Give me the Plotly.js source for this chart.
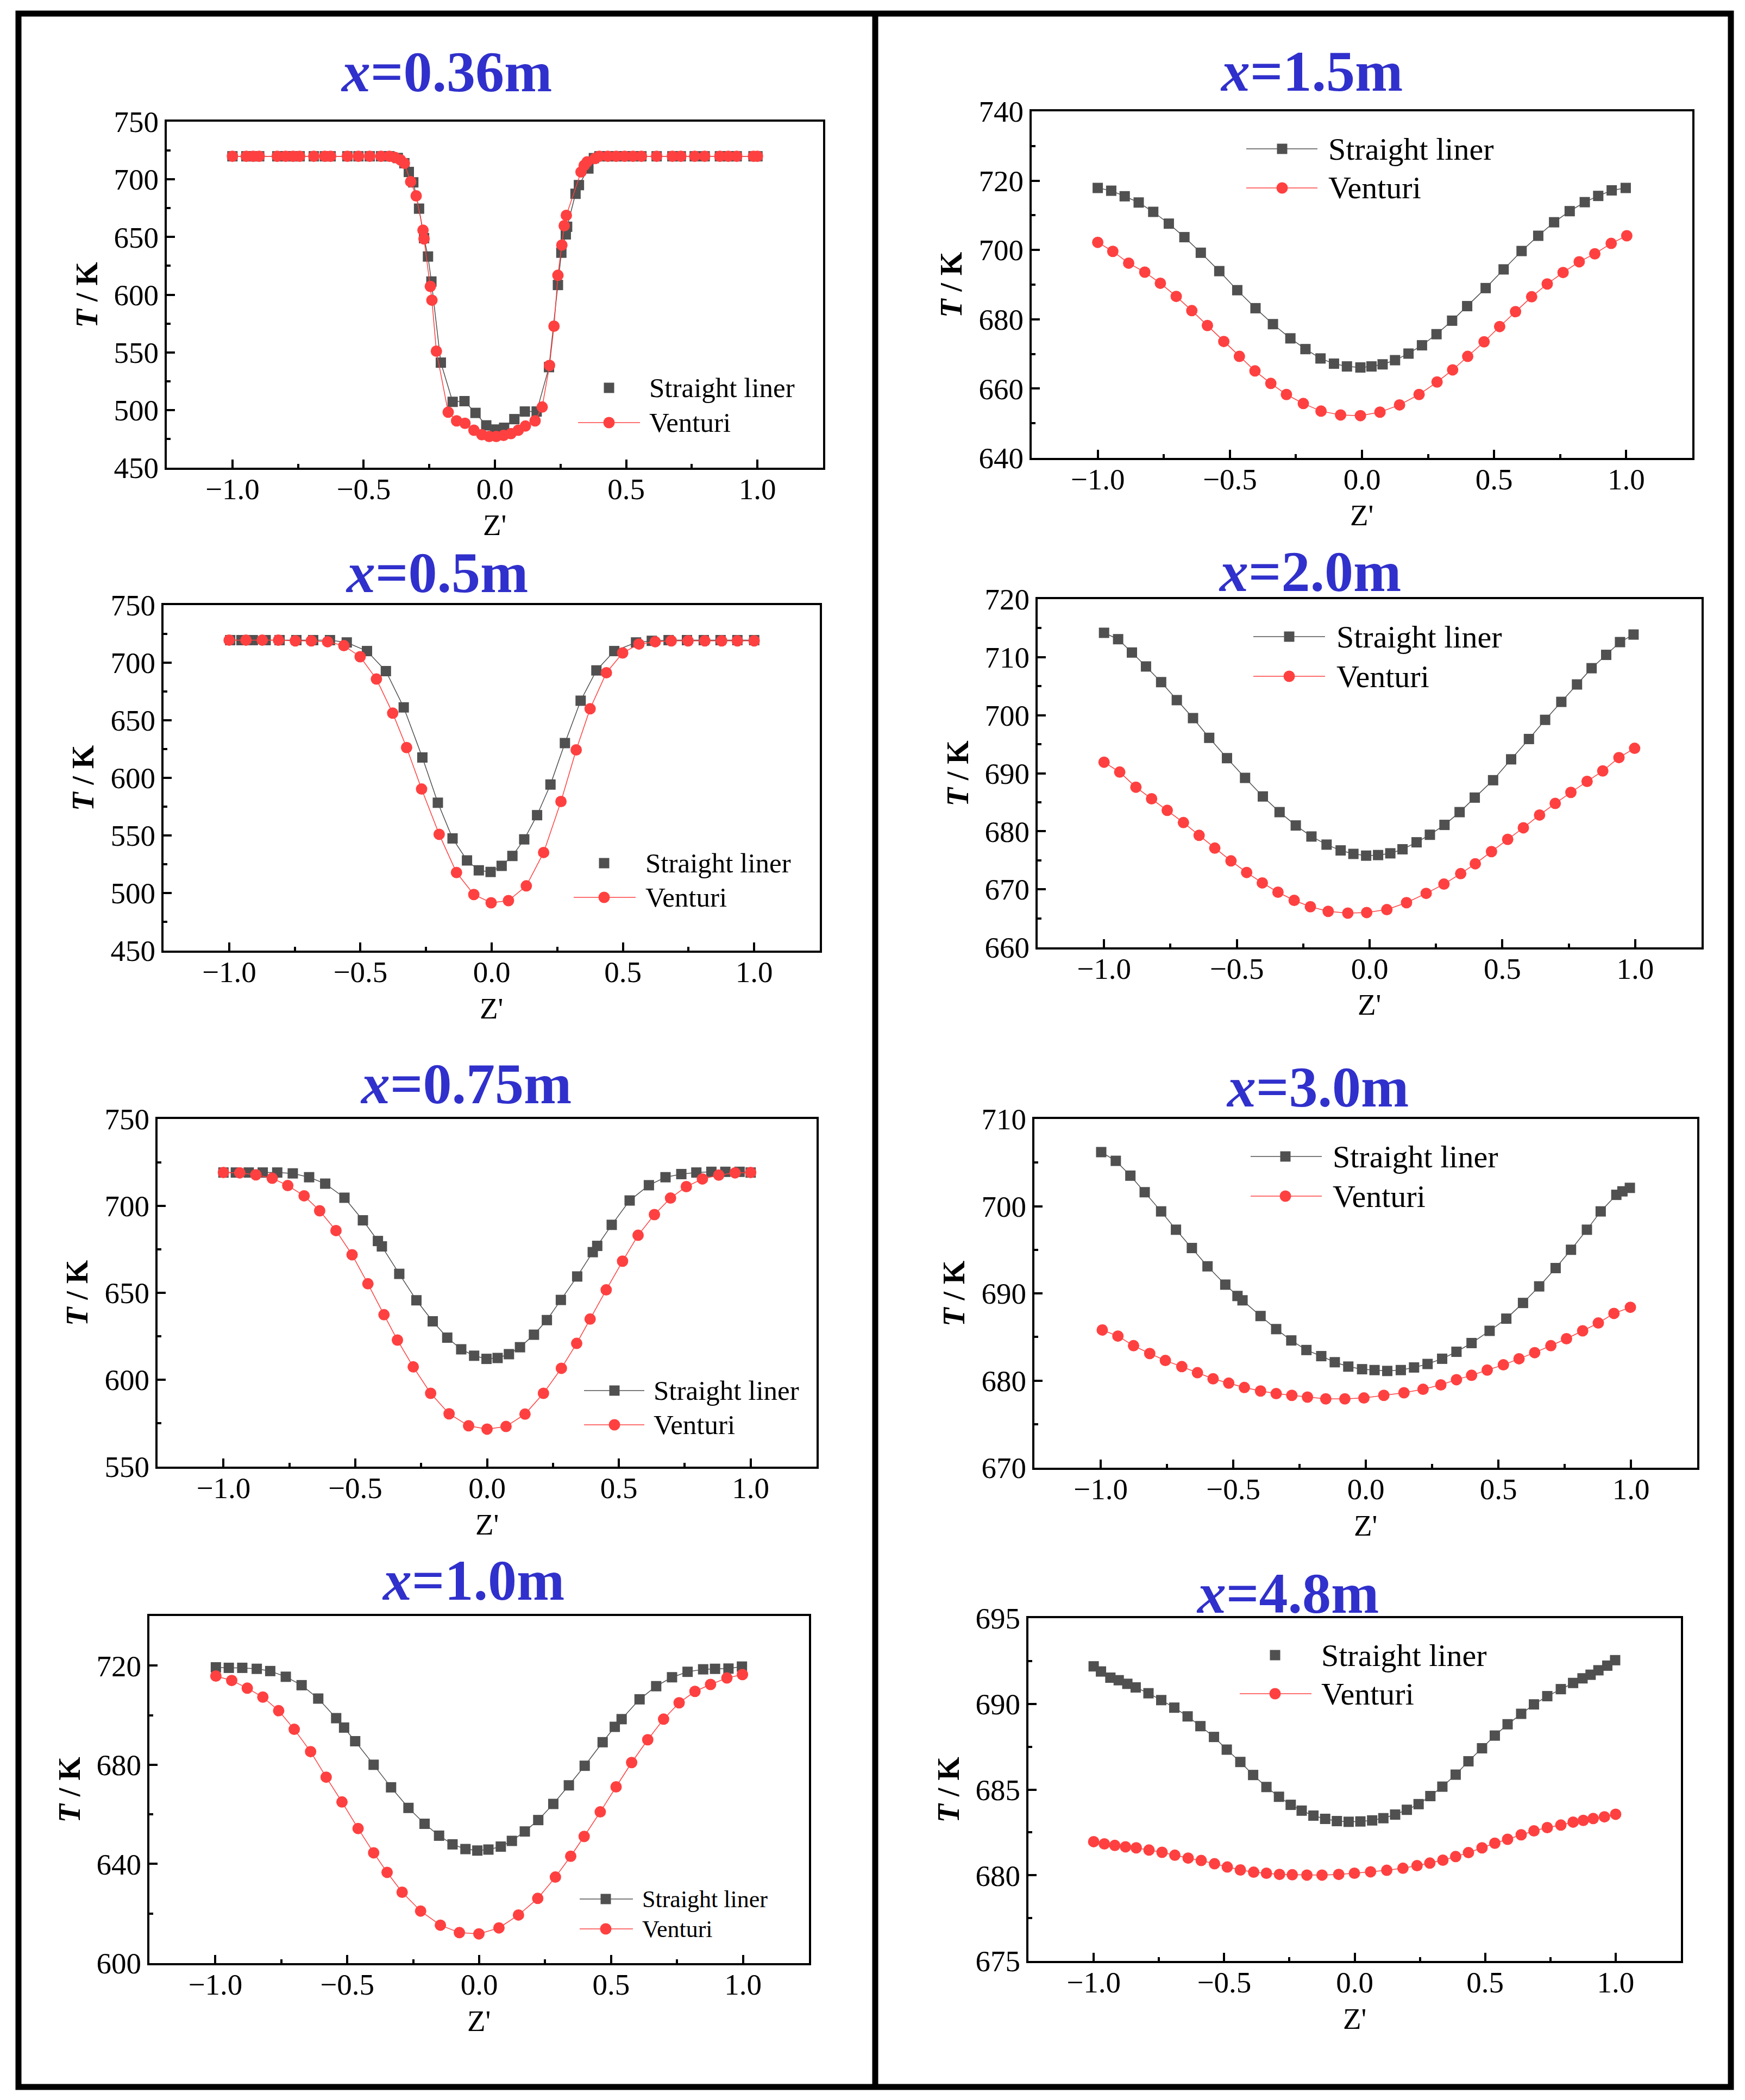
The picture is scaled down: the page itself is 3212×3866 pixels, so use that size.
<!DOCTYPE html>
<html>
<head>
<meta charset="utf-8">
<script src="https://cdn.plot.ly/plotly-3.0.1.min.js"></script>
<style>html,body{margin:0;padding:0;background:#fff;}#chart{width:3212px;height:3866px;}</style>
</head>
<body>
<div id="chart"></div>
<script>
// ---------------- DATA ----------------
const panelTitles = ["0.36m","0.5m","0.75m","1.0m","1.5m","2.0m","3.0m","4.8m"];
const seriesNames = ["Straight liner","Venturi"];

// x = 0.36 m
const z036_sl = [-1.0,-0.947,-0.921,-0.898,-0.829,-0.797,-0.769,-0.744,-0.690,-0.648,-0.626,-0.562,-0.520,-0.477,-0.434,-0.402,-0.370,-0.345,-0.328,-0.311,-0.289,-0.270,-0.255,-0.242,-0.206,-0.161,-0.116,-0.074,-0.033,0.001,0.035,0.074,0.114,0.159,0.206,0.240,0.253,0.270,0.275,0.307,0.320,0.356,0.377,0.398,0.430,0.462,0.494,0.526,0.558,0.616,0.676,0.708,0.761,0.799,0.857,0.889,0.921,0.985,1.0];
const t036_sl = [720,720,720,720,720,720,720,720,720,720,720,720,720,720,720,720,718.5,714,706.4,697.4,674.6,649.0,633.1,611.4,541.1,507.1,507.7,497.5,486.7,483.1,484.6,492.1,498.7,498.7,537.2,608.4,636.4,652.3,658.9,687.5,695.0,709.4,718.4,720,720,720,720,720,720,720,720,720,720,720,720,720,720,720,720];
const z036_v = [-1.0,-0.947,-0.921,-0.898,-0.829,-0.797,-0.769,-0.744,-0.690,-0.648,-0.626,-0.562,-0.520,-0.477,-0.434,-0.402,-0.381,-0.360,-0.345,-0.321,-0.300,-0.274,-0.270,-0.246,-0.240,-0.223,-0.178,-0.146,-0.114,-0.080,-0.050,-0.022,0.005,0.033,0.061,0.089,0.116,0.153,0.180,0.208,0.225,0.240,0.255,0.264,0.272,0.328,0.340,0.351,0.381,0.398,0.430,0.462,0.494,0.526,0.558,0.616,0.676,0.708,0.761,0.799,0.857,0.889,0.921,0.985,1.0];
const t036_v = [720,720,720,720,720,720,720,720,720,720,720,720,720,720,720,720,719.0,716.9,713.9,698.0,685.7,655.9,648.4,607.2,595.2,551.0,498.1,490.6,488.5,482.5,478.6,477.1,477.1,478.0,479.5,482.5,486.1,490.6,502.6,538.7,572.7,616.8,643.0,659.8,668.8,706.4,712.1,715.1,718.1,720,720,720,720,720,720,720,720,720,720,720,720,720,720,720,720];

// x = 0.5 m
const z050_sl = [-0.996,-0.953,-0.910,-0.861,-0.808,-0.744,-0.680,-0.616,-0.552,-0.475,-0.403,-0.335,-0.264,-0.205,-0.149,-0.094,-0.049,-0.004,0.038,0.079,0.124,0.173,0.224,0.279,0.339,0.399,0.467,0.550,0.610,0.674,0.744,0.808,0.872,0.936,1.0];
const t050_sl = [719.6,719.6,719.6,719.6,719.6,719.6,719.6,719.6,717.6,710.1,692.7,661.2,617.7,578.4,547.4,528.3,519.7,518.3,523.6,532.2,546.6,567.6,594.2,630.2,667.0,693.3,710.1,717.6,719.0,719.6,719.6,719.6,719.6,719.6,719.6];
const z050_v = [-1.0,-0.936,-0.874,-0.812,-0.748,-0.687,-0.625,-0.563,-0.501,-0.439,-0.377,-0.324,-0.267,-0.200,-0.134,-0.068,-0.002,0.064,0.132,0.198,0.264,0.322,0.375,0.437,0.499,0.561,0.623,0.684,0.748,0.812,0.876,0.936,1.0];
const t050_v = [719.6,719.6,719.6,719.6,719.0,719.0,718.2,714.8,705.2,685.8,656.2,626.3,590.3,551.0,517.8,498.7,491.5,493.4,506.2,535.2,579.5,624.3,660.0,691.3,708.5,716.2,718.2,719.0,719.0,719.0,719.0,719.0,719.0];

// x = 0.75 m
const z075_sl = [-1.0,-0.953,-0.904,-0.851,-0.796,-0.737,-0.675,-0.614,-0.541,-0.471,-0.414,-0.399,-0.333,-0.268,-0.206,-0.151,-0.098,-0.049,-0.002,0.040,0.083,0.125,0.178,0.227,0.280,0.342,0.401,0.418,0.473,0.541,0.614,0.677,0.737,0.794,0.851,0.904,0.958,1.0];
const t075_sl = [719.2,719.2,719.2,719.2,719.2,718.7,716.5,712.8,704.7,691.7,679.8,676.7,660.9,645.7,633.6,624.2,617.5,613.8,612.0,612.5,614.7,618.7,625.9,634.3,645.9,659.4,673.4,677.0,689.1,703.1,711.9,716.5,718.3,719.2,719.6,719.6,719.6,719.2];
const z075_v = [-1.0,-0.938,-0.877,-0.815,-0.756,-0.694,-0.635,-0.573,-0.512,-0.452,-0.391,-0.340,-0.280,-0.214,-0.144,-0.070,0.0,0.072,0.144,0.214,0.282,0.340,0.391,0.452,0.514,0.573,0.635,0.696,0.756,0.817,0.879,0.941,1.0];
const t075_v = [719.2,719.0,717.9,715.9,711.7,705.8,697.2,685.8,671.9,655.2,637.4,622.8,607.4,592.2,580.4,573.5,571.6,573.1,580.2,592.2,606.6,620.9,634.9,651.7,668.2,683.1,695.0,704.5,711.1,715.5,717.7,719.0,719.2];

// x = 1.0 m
const z100_sl = [-0.998,-0.949,-0.898,-0.843,-0.792,-0.733,-0.673,-0.610,-0.542,-0.512,-0.470,-0.400,-0.334,-0.268,-0.207,-0.152,-0.101,-0.052,-0.007,0.035,0.082,0.124,0.173,0.224,0.281,0.340,0.400,0.468,0.514,0.540,0.608,0.671,0.731,0.790,0.849,0.894,0.945,0.996];
const t100_sl = [719.3,719.1,719.1,718.7,717.8,715.5,712.1,706.7,698.8,695.0,689.5,680.0,670.9,662.6,656.2,651.4,647.9,646.0,645.4,645.8,647.0,649.3,653.1,657.7,664.2,671.7,679.6,689.1,695.3,698.4,706.4,711.7,715.3,717.5,718.5,718.7,718.8,719.6];
const z100_v = [-0.998,-0.938,-0.879,-0.820,-0.760,-0.701,-0.639,-0.580,-0.520,-0.459,-0.400,-0.349,-0.292,-0.222,-0.147,-0.075,-0.001,0.075,0.149,0.222,0.289,0.347,0.398,0.459,0.519,0.578,0.639,0.699,0.758,0.818,0.877,0.939,0.998];
const t100_v = [715.8,714.0,710.9,707.3,701.8,694.3,685.3,675.0,665.0,654.3,644.5,636.6,628.6,621.0,615.3,612.3,611.8,614.2,619.4,626.1,634.7,643.1,651.1,661.0,671.1,680.9,690.1,698.4,705.0,709.6,712.4,715.0,716.4];

// x = 1.5 m
const z150_sl = [-1.0,-0.949,-0.898,-0.845,-0.790,-0.731,-0.672,-0.610,-0.540,-0.472,-0.403,-0.337,-0.271,-0.214,-0.157,-0.106,-0.057,-0.006,0.036,0.078,0.125,0.176,0.227,0.282,0.341,0.398,0.468,0.536,0.604,0.667,0.727,0.786,0.843,0.894,0.945,0.998];
const t150_sl = [717.9,717.1,715.5,713.7,711.0,707.6,703.7,699.2,693.9,688.4,683.2,678.6,674.5,671.4,668.7,667.2,666.4,666.1,666.4,667.0,668.2,670.1,672.5,675.7,679.6,683.8,689.0,694.4,699.7,704.1,708.0,711.2,713.8,715.6,717.2,717.9];
const z150_v = [-1.0,-0.943,-0.883,-0.822,-0.763,-0.703,-0.644,-0.585,-0.523,-0.464,-0.405,-0.345,-0.286,-0.222,-0.155,-0.081,-0.006,0.068,0.142,0.216,0.284,0.343,0.400,0.462,0.521,0.581,0.642,0.701,0.761,0.822,0.881,0.943,1.002];
const t150_v = [702.2,699.6,696.2,693.6,690.4,686.6,682.5,678.2,673.6,669.3,665.1,661.5,658.3,655.7,653.5,652.4,652.2,653.2,655.3,658.3,661.9,665.4,669.3,673.5,677.9,682.2,686.5,690.2,693.5,696.6,698.9,701.9,704.1];

// x = 2.0 m
const z200_sl = [-1.0,-0.947,-0.895,-0.842,-0.785,-0.726,-0.665,-0.604,-0.537,-0.469,-0.402,-0.339,-0.278,-0.219,-0.162,-0.109,-0.061,-0.013,0.032,0.078,0.124,0.177,0.227,0.282,0.339,0.396,0.465,0.533,0.600,0.661,0.722,0.781,0.836,0.891,0.943,0.994];
const t200_sl = [714.2,713.1,710.8,708.4,705.7,702.6,699.5,696.1,692.6,689.2,686.0,683.3,681.0,679.1,677.7,676.7,676.1,675.8,675.9,676.2,676.9,678.1,679.4,681.1,683.3,685.8,688.8,692.4,695.9,699.2,702.3,705.3,708.1,710.4,712.6,713.9];
const z200_v = [-1.0,-0.941,-0.880,-0.821,-0.762,-0.701,-0.642,-0.583,-0.522,-0.463,-0.404,-0.345,-0.284,-0.223,-0.156,-0.082,-0.011,0.065,0.139,0.213,0.280,0.343,0.398,0.459,0.520,0.579,0.640,0.699,0.758,0.819,0.878,0.939,0.998];
const t200_v = [691.9,690.2,687.6,685.6,683.6,681.5,679.3,677.1,674.9,672.9,671.1,669.5,668.1,667.0,666.2,665.9,666.0,666.5,667.7,669.3,670.9,672.7,674.4,676.5,678.6,680.6,682.8,684.8,686.7,688.6,690.4,692.7,694.3];

// x = 3.0 m
const z300_sl = [-0.998,-0.943,-0.888,-0.834,-0.772,-0.716,-0.656,-0.597,-0.530,-0.484,-0.465,-0.397,-0.338,-0.281,-0.224,-0.168,-0.117,-0.066,-0.014,0.033,0.081,0.132,0.182,0.233,0.288,0.342,0.399,0.467,0.530,0.593,0.654,0.716,0.774,0.834,0.886,0.945,0.968,0.996];
const t300_sl = [706.2,705.2,703.5,701.6,699.4,697.3,695.2,693.1,691.0,689.7,689.2,687.4,685.9,684.6,683.5,682.8,682.1,681.6,681.3,681.2,681.1,681.2,681.5,681.9,682.5,683.3,684.3,685.7,687.1,688.9,690.8,692.9,695.0,697.3,699.4,701.3,701.7,702.1];
const z300_v = [-0.994,-0.935,-0.876,-0.815,-0.756,-0.694,-0.635,-0.576,-0.517,-0.458,-0.397,-0.338,-0.279,-0.220,-0.151,-0.079,-0.007,0.068,0.144,0.216,0.283,0.342,0.399,0.458,0.519,0.578,0.637,0.698,0.757,0.818,0.877,0.936,0.998];
const t300_v = [685.8,685.1,684.0,683.1,682.3,681.6,680.9,680.2,679.7,679.2,678.8,678.5,678.3,678.1,677.9,677.9,678.0,678.3,678.6,679.0,679.5,680.1,680.6,681.2,681.8,682.5,683.2,684.0,684.8,685.7,686.6,687.7,688.4];

// x = 4.8 m
const z480_sl = [-1.0,-0.972,-0.936,-0.904,-0.871,-0.839,-0.790,-0.741,-0.691,-0.640,-0.591,-0.539,-0.490,-0.438,-0.389,-0.338,-0.290,-0.245,-0.203,-0.158,-0.113,-0.068,-0.023,0.022,0.067,0.110,0.155,0.200,0.245,0.290,0.336,0.387,0.436,0.488,0.537,0.586,0.638,0.687,0.738,0.790,0.837,0.873,0.904,0.934,0.968,0.998];
const t480_sl = [692.19,691.89,691.53,691.38,691.17,690.96,690.62,690.22,689.78,689.27,688.70,688.07,687.33,686.61,685.85,685.15,684.58,684.11,683.77,683.48,683.29,683.16,683.12,683.14,683.20,683.33,683.54,683.82,684.15,684.62,685.17,685.87,686.65,687.41,688.15,688.81,689.42,689.97,690.45,690.86,691.22,691.49,691.70,691.96,692.23,692.55];
const z480_v = [-1.0,-0.959,-0.919,-0.878,-0.837,-0.788,-0.738,-0.689,-0.638,-0.588,-0.537,-0.488,-0.438,-0.387,-0.338,-0.288,-0.239,-0.183,-0.125,-0.061,-0.001,0.061,0.123,0.185,0.239,0.288,0.338,0.387,0.436,0.488,0.537,0.586,0.638,0.687,0.738,0.790,0.837,0.876,0.914,0.957,1.0];
const t480_v = [681.96,681.83,681.74,681.66,681.60,681.47,681.34,681.17,681.00,680.86,680.67,680.48,680.31,680.18,680.12,680.05,680.03,680.01,680.01,680.05,680.12,680.20,680.29,680.41,680.56,680.71,680.88,681.09,681.32,681.60,681.87,682.10,682.36,682.59,682.78,682.93,683.10,683.20,683.31,683.41,683.56];

const xTickVals = [-1.0,-0.5,0.0,0.5,1.0];

// ---------------- LAYOUT CONFIG ----------------
const W = 3212, H = 3866;
const C_SL = '#505050', C_V = '#ff4040', C_TITLE = '#3030cc';
const FONT = 'Liberation Serif, Times New Roman, serif';

const panels = [
  {zs:z036_sl, ts:t036_sl, zv:z036_v, tv:t036_v, L:307, R:1515, T:224, B:861, yr:[450,750], dt:50, mdt:25, tx:821, ty:133,
   lg:{mx:1121, lx0:1064, lx1:1178, tx:1193, y1:714, y2:778, fs:51, slLine:false}},
  {zs:z050_sl, ts:t050_sl, zv:z050_v, tv:t050_v, L:301, R:1509, T:1114, B:1750, yr:[450,750], dt:50, mdt:25, tx:804, ty:1054,
   lg:{mx:1112, lx0:1056, lx1:1170, tx:1186, y1:1589, y2:1652, fs:51, slLine:false}},
  {zs:z075_sl, ts:t075_sl, zv:z075_v, tv:t075_v, L:290, R:1503, T:2060, B:2700, yr:[550,750], dt:50, mdt:25, tx:857, ty:1995,
   lg:{mx:1131, lx0:1075, lx1:1186, tx:1201, y1:2560, y2:2623, fs:51, slLine:true}},
  {zs:z100_sl, ts:t100_sl, zv:z100_v, tv:t100_v, L:275, R:1489, T:2975, B:3614, yr:[600,740], dt:40, mdt:20, tx:871, ty:2909,
   lg:{mx:1115, lx0:1067, lx1:1165, tx:1180, y1:3496, y2:3551, fs:44, slLine:true}},
  {zs:z150_sl, ts:t150_sl, zv:z150_v, tv:t150_v, L:1899, R:3115, T:205, B:843, yr:[640,740], dt:20, mdt:10, tx:2414, ty:132,
   lg:{mx:2360, lx0:2294, lx1:2425, tx:2443, y1:274, y2:346, fs:58, slLine:true}},
  {zs:z200_sl, ts:t200_sl, zv:z200_v, tv:t200_v, L:1910, R:3132, T:1103, B:1744, yr:[660,720], dt:10, mdt:5, tx:2411, ty:1053,
   lg:{mx:2373, lx0:2307, lx1:2439, tx:2458, y1:1172, y2:1245, fs:58, slLine:true}},
  {zs:z300_sl, ts:t300_sl, zv:z300_v, tv:t300_v, L:1904, R:3124, T:2060, B:2702, yr:[670,710], dt:10, mdt:5, tx:2425, ty:2001,
   lg:{mx:2366, lx0:2302, lx1:2433, tx:2451, y1:2129, y2:2202, fs:58, slLine:true}},
  {zs:z480_sl, ts:t480_sl, zv:z480_v, tv:t480_v, L:1893, R:3094, T:2979, B:3610, yr:[675,695], dt:5, mdt:2.5, tx:2370, ty:2933,
   lg:{mx:2347, lx0:2282, lx1:2414, tx:2430, y1:3047, y2:3118, fs:58, slLine:false}}
];

const fx = px => px / W;
const fy = py => 1 - py / H;

const traces = [];
const layout = {
  width: W, height: H,
  margin: {l:0, r:0, t:0, b:0},
  paper_bgcolor: '#fff', plot_bgcolor: '#fff',
  showlegend: false,
  font: {family: FONT, color: '#000'},
  annotations: [], shapes: []
};

panels.forEach((p, i) => {
  const n = i + 1;
  const xk = n === 1 ? 'xaxis' : 'xaxis' + n;
  const yk = n === 1 ? 'yaxis' : 'yaxis' + n;
  const xr = n === 1 ? 'x' : 'x' + n;
  const yr = n === 1 ? 'y' : 'y' + n;
  const common = {
    ticks: 'inside', ticklen: 15, tickwidth: 4, tickcolor: '#000',
    showline: true, linewidth: 4, linecolor: '#000', mirror: true,
    showgrid: false, zeroline: false, fixedrange: true,
    tickfont: {family: FONT, size: 55, color: '#000'}
  };
  layout[xk] = Object.assign({}, common, {
    domain: [fx(p.L), fx(p.R)], anchor: yr, range: [-1.25, 1.25],
    tickmode: 'array', tickvals: xTickVals, tickformat: '.1f',
    ticklabelstandoff: -12,
    minor: {dtick: 0.25, tick0: 0, ticks: 'inside', ticklen: 7, tickwidth: 4, tickcolor: '#000', showgrid: false}
  });
  layout[yk] = Object.assign({}, common, {
    domain: [fy(p.B), fy(p.T)], anchor: xr, range: p.yr,
    tickmode: 'linear', tick0: p.yr[0], dtick: p.dt,
    minor: {dtick: p.mdt, tick0: p.yr[0], ticks: 'inside', ticklen: 7, tickwidth: 4, tickcolor: '#000', showgrid: false}
  });

  traces.push({
    type: 'scatter', mode: 'lines+markers', name: seriesNames[0],
    x: p.zs, y: p.ts, xaxis: xr, yaxis: yr,
    line: {color: C_SL, width: 1.5},
    marker: {symbol: 'square', size: 19, color: C_SL}
  });
  traces.push({
    type: 'scatter', mode: 'lines+markers', name: seriesNames[1],
    x: p.zv, y: p.tv, xaxis: xr, yaxis: yr,
    line: {color: C_V, width: 1.5},
    marker: {symbol: 'circle', size: 21, color: C_V}
  });

  // panel title
  layout.annotations.push({
    xref: 'paper', yref: 'paper', x: fx(p.tx), y: fy(p.ty), xanchor: 'center', yanchor: 'middle',
    text: '<b><i>x</i>=' + panelTitles[i] + '</b>', showarrow: false,
    font: {family: FONT, size: 106, color: C_TITLE}
  });
  // axis titles
  layout.annotations.push({
    xref: 'paper', yref: 'paper', x: fx((p.L + p.R) / 2), y: fy(p.B + 106), xanchor: 'center', yanchor: 'middle',
    text: "Z'", showarrow: false, font: {family: FONT, size: 55, color: '#000'}
  });
  layout.annotations.push({
    xref: 'paper', yref: 'paper', x: fx(p.L - 148), y: fy((p.T + p.B) / 2), xanchor: 'center', yanchor: 'middle',
    text: '<b><i>T</i> / K</b>', textangle: -90, showarrow: false, font: {family: FONT, size: 56, color: '#000'}
  });

  // legend (drawn)
  const g = p.lg;
  [[g.y1, seriesNames[0], C_SL, 'rect', g.slLine, 9.5], [g.y2, seriesNames[1], C_V, 'circle', true, 10.5]].forEach(e => {
    const [yy, label, col, shp, hasLine, r] = e;
    if (hasLine) {
      layout.shapes.push({type: 'line', xref: 'paper', yref: 'paper', x0: fx(g.lx0), x1: fx(g.lx1), y0: fy(yy), y1: fy(yy),
        line: {color: col, width: 1.5}});
    }
    layout.shapes.push({type: shp, xref: 'paper', yref: 'paper', xsizemode: 'pixel', ysizemode: 'pixel',
      xanchor: fx(g.mx), yanchor: fy(yy), x0: -r, x1: r, y0: -r, y1: r,
      fillcolor: col, line: {width: 0}});
    layout.annotations.push({
      xref: 'paper', yref: 'paper', x: fx(g.tx), y: fy(yy), xanchor: 'left', yanchor: 'middle',
      text: label, showarrow: false, font: {family: FONT, size: g.fs, color: '#000'}
    });
  });
});

// outer frame and divider
layout.shapes.push({type: 'rect', xref: 'paper', yref: 'paper', x0: fx(34), x1: fx(3186), y0: fy(3842), y1: fy(25),
  line: {color: '#000', width: 11}, fillcolor: 'rgba(0,0,0,0)'});
layout.shapes.push({type: 'line', xref: 'paper', yref: 'paper', x0: fx(1611), x1: fx(1611), y0: fy(3842), y1: fy(25),
  line: {color: '#000', width: 11}});

Plotly.newPlot('chart', traces, layout, {staticPlot: true, displayModeBar: false});
</script>
</body>
</html>
